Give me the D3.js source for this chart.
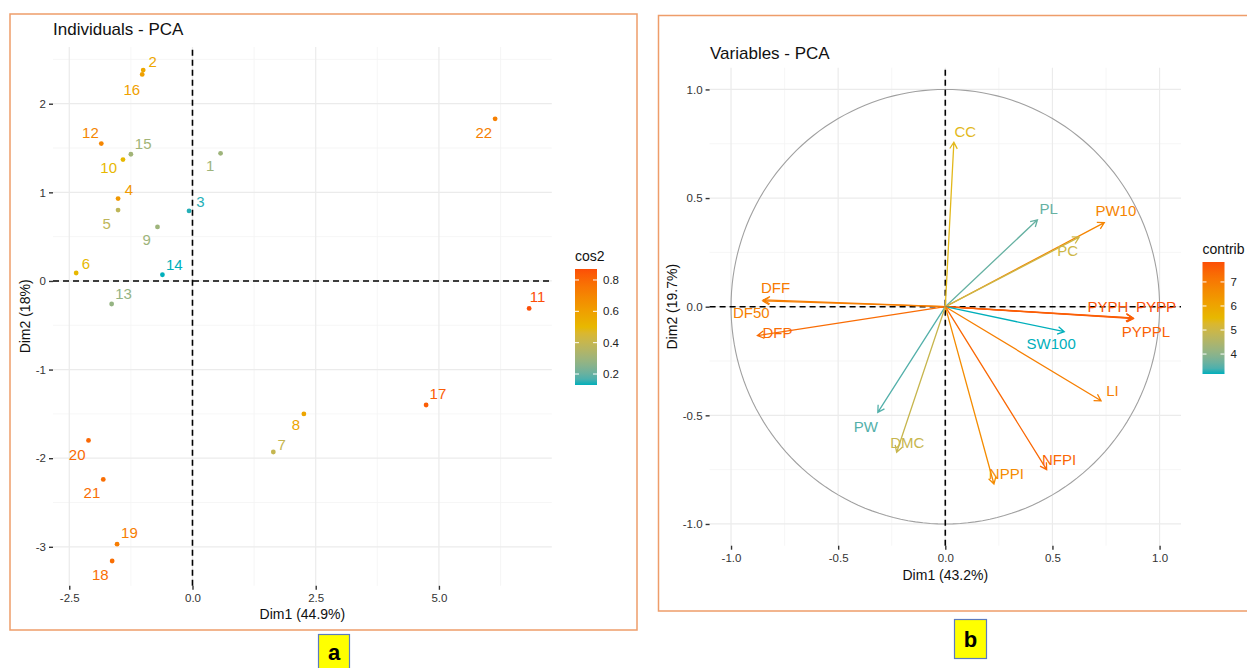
<!DOCTYPE html>
<html><head><meta charset="utf-8">
<script src="https://cdn.jsdelivr.net/npm/d3@7"></script>
<style>
body{margin:0;background:#fff;}
svg{display:block;font-family:"Liberation Sans",Arial,sans-serif;}
</style></head>
<body><svg id="c" width="1247" height="668"></svg>
<script>
// ---------- Data: Individuals PCA ----------
const indNames = ["1","2","3","4","5","6","7","8","9","10","11","12","13","14","15","16","17","18","19","20","21","22"];
const indDim1  = [0.57,-1.00,-0.07,-1.51,-1.51,-2.36,1.64,2.26,-0.71,-1.41,6.83,-1.85,-1.64,-0.61,-1.25,-1.02,4.74,-1.63,-1.53,-2.11,-1.81,6.14];
const indDim2  = [1.44,2.38,0.79,0.93,0.80,0.09,-1.93,-1.50,0.61,1.37,-0.31,1.55,-0.26,0.07,1.43,2.33,-1.40,-3.16,-2.97,-1.80,-2.24,1.83];
const indCos2  = [0.30,0.57,0.14,0.63,0.38,0.50,0.40,0.58,0.30,0.50,0.87,0.70,0.28,0.13,0.31,0.60,0.83,0.78,0.73,0.80,0.78,0.72];
const indLabX  = [0.36,-0.81,0.16,-1.29,-1.74,-2.16,1.81,2.10,-0.93,-1.70,7.00,-2.07,-1.40,-0.37,-1.00,-1.23,4.98,-1.87,-1.28,-2.34,-2.04,5.91];
const indLabY  = [1.30,2.48,0.895,1.03,0.65,0.20,-1.85,-1.625,0.47,1.28,-0.18,1.67,-0.14,0.18,1.55,2.16,-1.27,-3.31,-2.84,-1.96,-2.39,1.67];
const indXTicks = [-2.5,0,2.5,5];
const indYTicks = [-3,-2,-1,0,1,2];
const cos2Ticks = [0.2,0.4,0.6,0.8];

// ---------- Data: Variables PCA ----------
const varNames   = ["CC","PL","PW10","PC","PYPH","PYPP","PYPPL","DFF","DF50","DFP","PW","DMC","SW100","LI","NFPI","NPPI"];
const varDim1    = [0.04,0.43,0.742,0.625,0.874,0.878,0.876,-0.849,-0.852,-0.877,-0.315,-0.227,0.555,0.727,0.473,0.227];
const varDim2    = [0.757,0.40,0.387,0.32,-0.051,-0.055,-0.053,0.031,0.027,-0.133,-0.486,-0.67,-0.115,-0.433,-0.75,-0.816];
const varContrib = [5.4,3.6,6.8,5.0,7.7,7.83,7.5,7.0,6.9,7.3,3.45,4.9,3.17,6.9,7.4,6.6];
const varLabX    = [0.093,0.483,0.796,0.571,0.759,0.983,0.936,-0.792,-0.905,-0.783,-0.371,-0.177,0.494,0.78,0.531,0.285];
const varLabY    = [0.805,0.453,0.442,0.258,0.0,0.0,-0.115,0.089,-0.028,-0.12,-0.552,-0.626,-0.172,-0.387,-0.705,-0.77];
const varTicks   = [-1,-0.5,0,0.5,1];
const contribTicks = [4,5,6,7];

const gradCols = ["#00AFBB","#E7B800","#FC4E07"];

const svg = d3.select("#c");
const frameCol = "#EE9D6A";
const gridMajor = "#EBEBEB", gridMinor = "#F4F4F4";
const tickCol = "#333333";

function gradScale(vals){
  const [lo,hi] = d3.extent(vals);
  return d3.scaleLinear().domain([lo,(lo+hi)/2,hi]).range(gradCols).interpolate(d3.interpolateLab);
}
const fmt1 = d => d3.format(".1f")(d).replace("\u2212","-");
const fmt0 = d => d3.format("d")(d).replace("\u2212","-");

function drawGrid(g, x, y, xMaj, xMin, yMaj, yMin){
  const [x0,x1] = x.range(), [y0,y1] = y.range();
  g.selectAll(".gxm").data(xMin).join("line").attr("x1",d=>x(d)).attr("x2",d=>x(d)).attr("y1",y0).attr("y2",y1).attr("stroke",gridMinor).attr("stroke-width",0.8);
  g.selectAll(".gym").data(yMin).join("line").attr("y1",d=>y(d)).attr("y2",d=>y(d)).attr("x1",x0).attr("x2",x1).attr("stroke",gridMinor).attr("stroke-width",0.8);
  g.selectAll(".gxM").data(xMaj).join("line").attr("x1",d=>x(d)).attr("x2",d=>x(d)).attr("y1",y0).attr("y2",y1).attr("stroke",gridMajor).attr("stroke-width",1.2);
  g.selectAll(".gyM").data(yMaj).join("line").attr("y1",d=>y(d)).attr("y2",d=>y(d)).attr("x1",x0).attr("x2",x1).attr("stroke",gridMajor).attr("stroke-width",1.2);
}

function drawAxes(g, x, y, xTicks, yTicks, xFmt, yFmt){
  const ax = g.append("g").attr("transform",`translate(0,${y.range()[0]})`)
    .call(d3.axisBottom(x).tickValues(xTicks).tickFormat(xFmt).tickSize(4).tickPadding(4));
  const ay = g.append("g").attr("transform",`translate(${x.range()[0]},0)`)
    .call(d3.axisLeft(y).tickValues(yTicks).tickFormat(yFmt).tickSize(4).tickPadding(3));
  [ax,ay].forEach(a=>{
    a.select(".domain").remove();
    a.selectAll("line").attr("stroke",tickCol).attr("stroke-width",1.4);
    a.selectAll("text").attr("fill",tickCol).style("font-size","11.5px").style("font-family","Liberation Sans, Arial, sans-serif");
  });
}

function drawRefLines(g, x, y){
  g.append("line").attr("x1",x(0)).attr("x2",x(0)).attr("y1",y.range()[0]).attr("y2",y.range()[1])
    .attr("stroke","#000").attr("stroke-width",1.6).attr("stroke-dasharray","6,4");
  g.append("line").attr("y1",y(0)).attr("y2",y(0)).attr("x1",x.range()[0]).attr("x2",x.range()[1])
    .attr("stroke","#000").attr("stroke-width",1.6).attr("stroke-dasharray","6,4");
}

function drawColorbar(g, id, vals, ticks, x, yTop, yBot, title, titleY){
  const [lo,hi] = d3.extent(vals);
  const cs = gradScale(vals);
  const grad = svg.append("defs").append("linearGradient").attr("id",id).attr("x1",0).attr("x2",0).attr("y1",1).attr("y2",0);
  d3.range(0,1.0001,0.05).forEach(t=>grad.append("stop").attr("offset",t).attr("stop-color",cs(lo+t*(hi-lo))));
  const w = 22;
  g.append("rect").attr("x",x).attr("y",yTop).attr("width",w).attr("height",yBot-yTop).attr("fill",`url(#${id})`);
  const ys = d3.scaleLinear().domain([lo,hi]).range([yBot,yTop]);
  ticks.forEach(t=>{
    g.append("line").attr("x1",x).attr("x2",x+4).attr("y1",ys(t)).attr("y2",ys(t)).attr("stroke","#fff").attr("stroke-width",1);
    g.append("line").attr("x1",x+w-4).attr("x2",x+w).attr("y1",ys(t)).attr("y2",ys(t)).attr("stroke","#fff").attr("stroke-width",1);
    g.append("text").attr("x",x+w+6).attr("y",ys(t)).attr("dy","0.36em").attr("fill","#222").style("font-size","11.5px").text(t);
  });
  g.append("text").attr("x",x).attr("y",titleY).attr("fill","#111").style("font-size","14px").text(title);
}

// ================= Panel a =================
svg.append("rect").attr("x",10).attr("y",14).attr("width",627).attr("height",616).attr("fill","#fff").attr("stroke",frameCol).attr("stroke-width",1.5);
const gA = svg.append("g");
const xA = d3.scaleLinear().domain([-2.83,7.29]).range([53,551.8]);
const yA = d3.scaleLinear().domain([-3.44,2.64]).range([585.8,47]);
drawGrid(gA, xA, yA, indXTicks, [-1.25,1.25,3.75,6.25], indYTicks, [-2.5,-1.5,-0.5,0.5,1.5,2.5]);
drawAxes(gA, xA, yA, indXTicks, indYTicks, fmt1, fmt0);
drawRefLines(gA, xA, yA);
const cA = gradScale(indCos2);
gA.selectAll(".pt").data(indNames).join("circle")
  .attr("cx",(d,i)=>xA(indDim1[i])).attr("cy",(d,i)=>yA(indDim2[i])).attr("r",2.4)
  .attr("fill",(d,i)=>cA(indCos2[i]));
gA.selectAll(".lb").data(indNames).join("text")
  .attr("x",(d,i)=>xA(indLabX[i])).attr("y",(d,i)=>yA(indLabY[i])).attr("dy","0.36em")
  .attr("text-anchor","middle").attr("fill",(d,i)=>cA(indCos2[i])).style("font-size","15px").text(d=>d);
gA.append("text").attr("x",53).attr("y",35).style("font-size","17px").attr("fill","#111").text("Individuals - PCA");
gA.append("text").attr("x",(xA.range()[0]+xA.range()[1])/2).attr("y",619).attr("text-anchor","middle").style("font-size","14px").attr("fill","#111").text("Dim1 (44.9%)");
gA.append("text").attr("transform",`translate(30,${(yA.range()[0]+yA.range()[1])/2}) rotate(-90)`).attr("text-anchor","middle").style("font-size","14px").attr("fill","#111").text("Dim2 (18%)");
drawColorbar(gA,"gc1",indCos2,cos2Ticks,575,269,385,"cos2",261);

// ================= Panel b =================
svg.append("rect").attr("x",658.5).attr("y",15.5).attr("width",600).attr("height",595.5).attr("fill","#fff").attr("stroke",frameCol).attr("stroke-width",1.5);
const gB = svg.append("g");
const xB = d3.scaleLinear().domain([-1.1,1.1]).range([709.6,1181]);
const yB = d3.scaleLinear().domain([-1.1,1.1]).range([545.7,67.7]);
drawGrid(gB, xB, yB, varTicks, [-0.75,-0.25,0.25,0.75], varTicks, [-0.75,-0.25,0.25,0.75]);
drawAxes(gB, xB, yB, varTicks, varTicks, fmt1, fmt1);
// correlation circle
const circ = d3.range(0,361,2).map(a=>[Math.cos(a*Math.PI/180),Math.sin(a*Math.PI/180)]);
gB.append("path").attr("d",d3.line().x(d=>xB(d[0])).y(d=>yB(d[1]))(circ)).attr("fill","none").attr("stroke","#A0A0A0").attr("stroke-width",1.1);
drawRefLines(gB, xB, yB);
const cB = gradScale(varContrib);
const headLen = 7.5, headAng = Math.PI/6;
varNames.forEach((n,i)=>{
  const x0 = xB(0), y0 = yB(0), x1 = xB(varDim1[i]), y1 = yB(varDim2[i]);
  const col = cB(varContrib[i]);
  const ang = Math.atan2(y1-y0, x1-x0);
  const p = d3.path();
  p.moveTo(x0,y0); p.lineTo(x1,y1);
  p.moveTo(x1-headLen*Math.cos(ang-headAng), y1-headLen*Math.sin(ang-headAng));
  p.lineTo(x1,y1);
  p.lineTo(x1-headLen*Math.cos(ang+headAng), y1-headLen*Math.sin(ang+headAng));
  gB.append("path").attr("d",p.toString()).attr("fill","none").attr("stroke",col).attr("stroke-width",1.3);
});
gB.selectAll(".vl").data(varNames).join("text")
  .attr("x",(d,i)=>xB(varLabX[i])).attr("y",(d,i)=>yB(varLabY[i])).attr("dy","0.36em")
  .attr("text-anchor","middle").attr("fill",(d,i)=>cB(varContrib[i])).style("font-size","15px").text(d=>d);
gB.append("text").attr("x",710).attr("y",59).style("font-size","17px").attr("fill","#111").text("Variables - PCA");
gB.append("text").attr("x",(xB.range()[0]+xB.range()[1])/2).attr("y",580).attr("text-anchor","middle").style("font-size","14px").attr("fill","#111").text("Dim1 (43.2%)");
gB.append("text").attr("transform",`translate(677,${(yB.range()[0]+yB.range()[1])/2}) rotate(-90)`).attr("text-anchor","middle").style("font-size","14px").attr("fill","#111").text("Dim2 (19.7%)");
drawColorbar(gB,"gc2",varContrib,contribTicks,1202.5,262,374,"contrib",254);

// ================= Panel labels =================
function tag(x,y,w,h,t){
  svg.append("rect").attr("x",x).attr("y",y).attr("width",w).attr("height",h).attr("fill","#FFFF00").attr("stroke","#5B7BC0").attr("stroke-width",1.2);
  svg.append("text").attr("x",x+w/2).attr("y",y+h/2).attr("dy","0.36em").attr("text-anchor","middle").style("font-size","22px").style("font-weight","bold").attr("fill","#000").text(t);
}
tag(318.5,634.5,31,36,"a");
tag(954.5,619.5,32,39,"b");
</script></body></html>
